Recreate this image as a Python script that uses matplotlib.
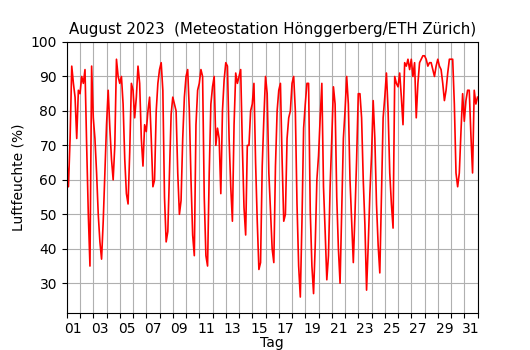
#!/usr/bin/env python3
"""Luftfeuchte August 2023, Meteostation Hönggerberg/ETH Zürich."""
import matplotlib
matplotlib.use("Agg")
import matplotlib.pyplot as plt
import matplotlib.dates as mdates
import numpy as np
import pandas as pd

# 3-hourly relative humidity (%), one row per day (00, 03, ..., 21 h)
days = [f"{d:02d}" for d in range(1, 32)]
rh = [
    [66, 58, 72, 93, 88, 84, 72, 86],   # 01
    [85, 90, 88, 92, 70, 50, 35, 93],   # 02
    [78, 72, 62, 50, 42, 37, 48, 62],   # 03
    [76, 86, 75, 66, 60, 70, 95, 90],   # 04
    [88, 90, 82, 66, 56, 53, 68, 88],   # 05
    [86, 78, 84, 93, 88, 72, 64, 76],   # 06
    [74, 80, 84, 72, 58, 60, 80, 88],   # 07
    [92, 94, 86, 55, 42, 45, 62, 79],   # 08
    [84, 82, 80, 62, 50, 54, 72, 84],   # 09
    [90, 92, 80, 60, 44, 38, 76, 86],   # 10
    [88, 92, 90, 55, 38, 35, 62, 82],   # 11
    [87, 90, 70, 75, 72, 56, 80, 89],   # 12
    [94, 93, 72, 58, 48, 76, 91, 88],   # 13
    [90, 92, 70, 52, 44, 70, 70, 80],   # 14
    [82, 88, 65, 48, 34, 36, 64, 78],   # 15
    [90, 85, 62, 51, 40, 36, 64, 80],   # 16
    [86, 88, 66, 48, 50, 72, 78, 80],   # 17
    [88, 90, 80, 53, 35, 26, 48, 75],   # 18
    [82, 88, 88, 51, 35, 27, 41, 60],   # 19
    [67, 78, 88, 58, 45, 31, 38, 58],   # 20
    [72, 87, 82, 55, 40, 30, 51, 72],   # 21
    [80, 90, 82, 60, 48, 36, 50, 66],   # 22
    [85, 85, 78, 60, 47, 28, 41, 56],   # 23
    [67, 83, 72, 53, 41, 33, 56, 78],   # 24
    [84, 91, 80, 62, 53, 46, 90, 88],   # 25
    [87, 91, 84, 76, 94, 93, 95, 92],   # 26
    [95, 90, 94, 78, 88, 94, 95, 96],   # 27
    [96, 95, 93, 94, 94, 92, 90, 93],   # 28
    [95, 93, 92, 88, 83, 86, 91, 95],   # 29
    [95, 95, 82, 62, 58, 62, 74, 85],   # 30
    [77, 83, 86, 86, 73, 62, 86, 82],   # 31
]
rh_end = 84  # 01.09. 00 h

values = np.append(np.array(rh, dtype=float).ravel(), rh_end)
times = pd.date_range("2023-08-01", periods=len(values), freq="3h")

fig = plt.figure(figsize=(5.3, 3.5), dpi=100)
ax = fig.add_axes([0.126, 0.107, 0.775, 0.773])

ax.plot(times, values, color="red", lw=1.2)

start, end = pd.Timestamp("2023-08-01"), pd.Timestamp("2023-09-01")
ax.set_xlim(start, end)
ax.set_ylim(21.5, 100)

# grid/ticks at every midnight, labels (odd days) centred at noon
ax.xaxis.set_major_locator(mdates.DayLocator())
ax.xaxis.set_major_formatter(plt.NullFormatter())
noon = [start + pd.Timedelta(days=i, hours=12) for i in range(0, 31, 2)]
ax.set_xticks(noon, days[::2], minor=True)
ax.tick_params(axis="x", which="minor", length=0, pad=7)
ax.set_yticks(range(30, 101, 10))

ax.grid(True, which="major", color="#b0b0b0", lw=0.8)
ax.set_xlabel("Tag")
ax.xaxis.set_label_coords(0.5, -0.088)
ax.set_ylabel("Luftfeuchte (%)")
ax.set_title("August 2023  (Meteostation Hönggerberg/ETH Zürich)", fontsize=10.8)

fig.savefig("out.png", dpi=100)
